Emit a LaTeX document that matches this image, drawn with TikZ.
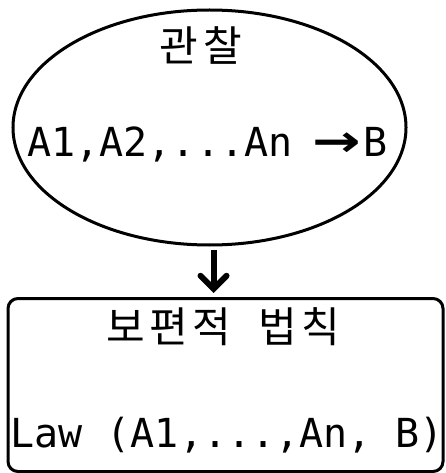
\documentclass[tikz,border=0pt]{standalone}
\usepackage{fontspec}
\usepackage{graphicx}
\setmonofont{DejaVu Sans Mono}
\newfontfamily\kr{Noto Sans CJK KR}
\newfontfamily\symf{DejaVu Sans}
\usetikzlibrary{shapes.geometric, arrows.meta}

\begin{document}
\begin{tikzpicture}[x=1pt, y=-1pt, line width=3pt,
                    obsbox/.style = {draw, ellipse, inner sep=0pt, minimum width=393pt, minimum height=235pt},
                    lawbox/.style = {draw, rectangle, rounded corners=10pt, inner sep=0pt, minimum width=435pt, minimum height=173pt},
                    txt/.style = {inner sep=0pt, font=\fontsize{40}{48}\selectfont\ttfamily},
                    krtxt/.style = {inner sep=0pt, font=\fontsize{42}{50}\selectfont\kr}]
    \useasboundingbox (0,0) rectangle (445,473);

    % observation
    \node[obsbox] (obs) at (209.5, 127.5) {};
    \node[krtxt] (obstitle) at (201, 45) {관\hspace{5pt}찰};
    \node[txt, anchor=base west] (obsline) at (26, 157)
        {A1,A2,...An\hspace{20pt}\scalebox{1.45}[1.1]{\symf\bfseries →}\hspace{2pt}B};

    % universal law
    \node[lawbox] (law) at (225.5, 385) {};
    \node[krtxt] (lawtitle) at (223.5, 327) {보\hspace{4pt}편\hspace{4pt}적\hspace{28pt}법\hspace{4pt}칙};
    \node[txt, anchor=base west] (lawline) at (9, 447) {Law (A1,...,An, B)};

    \draw[-{Straight Barb[length=13pt, width=26pt, line cap=round]}, line width=6pt, shorten <=3pt, shorten >=4pt]
        ([xshift=4pt]obs.south) -- ([xshift=4pt]obs.south |- law.north);
\end{tikzpicture}
\end{document}
